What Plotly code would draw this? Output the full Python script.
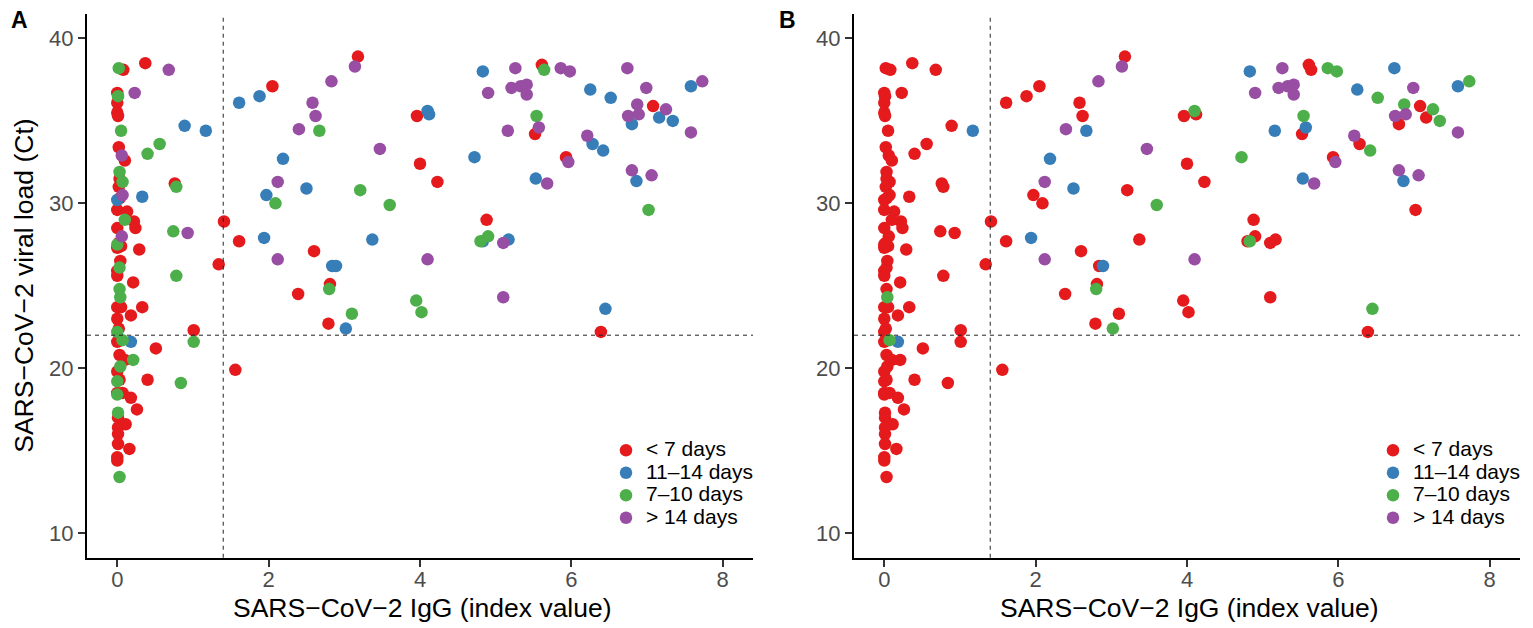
import plotly.graph_objects as go

# SARS-CoV-2 IgG index value and Ct value per sample (same samples in both panels)
igg = [
    0.02, 0.08, 0.37, 0.68, 0.00, 0.01, 0.23, 0.00, 0.00, 0.01,
    0.05, 0.02, 0.06, 0.10, 0.40, 0.56, 0.89, 1.17, 1.61, 1.88,
    2.05, 2.19, 2.12, 1.97, 2.09, 0.03, 0.03, 0.07, 0.02, 0.07,
    0.00, 0.03, 0.33, 0.76, 0.78, 0.00, 0.13, 0.22, 0.00, 0.24,
    0.10, 0.06, 0.74, 0.93, 1.41, 1.61, 1.94, 2.12, 1.34, 0.02,
    0.00, 0.00, 0.05, 0.29, 0.04, 0.03, 0.00, 0.00, 0.21, 0.78,
    0.03, 0.04, 0.00, 0.05, 0.33, 0.18, 0.00, 0.02, 0.00, 1.01,
    1.01, 0.18, 0.07, 0.00, 0.51, 0.03, 0.10, 0.21, 0.04, 0.00,
    0.03, 0.00, 0.40, 0.84, 1.56, 0.00, 0.07, 0.00, 0.18, 0.26,
    0.01, 0.01, 0.11, 0.01, 0.01, 0.01, 0.16, 0.00, 0.00, 0.03,
    3.18, 3.14, 2.83, 2.58, 2.62, 2.40, 2.67, 3.47, 2.50, 3.21,
    3.60, 3.37, 2.60, 2.84, 2.89, 2.81, 2.80, 2.39, 3.10, 2.79,
    3.02, 3.96, 4.10, 4.12, 4.00, 4.23, 4.72, 4.83, 4.90, 5.16,
    5.26, 5.21, 4.88, 4.90, 4.80, 4.83, 5.17, 5.10, 4.10, 3.95,
    4.02, 5.10, 5.61, 5.64, 5.86, 5.98, 6.74, 5.33, 5.41, 5.41,
    6.25, 6.52, 6.99, 7.58, 7.73, 6.87, 7.08, 7.25, 6.75, 6.89,
    6.80, 7.16, 7.34, 7.58, 5.54, 5.57, 5.52, 6.21, 6.28, 6.42,
    5.93, 5.96, 5.53, 5.68, 6.80, 6.86, 7.06, 7.02, 6.45, 6.39,
]

ct = [
    38.2, 38.1, 38.5, 38.1, 36.7, 36.5, 36.7, 36.1, 35.5, 35.3,
    34.4, 33.4, 32.9, 32.6, 33.0, 33.6, 34.7, 34.4, 36.1, 36.5,
    37.1, 32.7, 31.3, 30.5, 30.0, 31.9, 31.5, 31.3, 31.0, 30.5,
    30.2, 30.3, 30.4, 31.2, 31.0, 29.6, 29.5, 28.9, 28.5, 28.5,
    29.0, 28.0, 28.3, 28.2, 28.9, 27.7, 27.9, 26.6, 26.3, 27.6,
    27.5, 27.3, 27.4, 27.2, 26.5, 26.1, 25.9, 25.6, 25.2, 25.6,
    24.8, 24.3, 23.7, 23.7, 23.7, 23.2, 23.0, 22.4, 22.2, 22.3,
    21.6, 21.6, 21.7, 21.6, 21.2, 20.8, 20.5, 20.5, 20.1, 19.8,
    19.3, 19.2, 19.3, 19.1, 19.9, 18.5, 18.5, 18.4, 18.2, 17.5,
    17.3, 17.0, 16.6, 16.4, 16.0, 15.4, 15.1, 14.6, 14.4, 13.4,
    38.9, 38.3, 37.4, 36.1, 35.3, 34.5, 34.4, 33.3, 30.9, 30.8,
    29.9, 27.8, 27.1, 26.2, 26.2, 25.1, 24.8, 24.5, 23.3, 22.7,
    22.4, 35.3, 35.6, 35.4, 32.4, 31.3, 32.8, 38.0, 36.7, 34.4,
    38.2, 37.0, 29.0, 28.0, 27.7, 27.7, 27.8, 27.6, 26.6, 24.1,
    23.4, 24.3, 38.4, 38.1, 38.2, 38.0, 38.2, 37.1, 37.2, 36.6,
    36.9, 36.4, 37.0, 37.1, 37.4, 36.0, 35.9, 35.7, 35.3, 35.4,
    34.8, 35.2, 35.0, 34.3, 35.3, 34.6, 34.2, 34.1, 33.6, 33.2,
    32.8, 32.5, 31.5, 31.2, 32.0, 31.35, 31.7, 29.6, 23.6, 22.2,
]

# days since symptom onset: r = <7, g = 7-10, b = 11-14, p = >14
days_a = (
    "g r r p r g p r r r  g r p r g g b b b b  r b p b g g r g r p  "
    "b r b r g r r r r r  g p g p r r b p r r  g r r r r g r r r g  "
    "g g r r r r r r g r  g b g r r r r g g r  r g r g r r r g r r  "
    "g r r r r r r r r g  r p p p p p g p b g  g b r b b r g r g r  "
    "b r b b r r b b p p  p p r g g b b p p g  g p r g p p p p p p  "
    "b b p b p p r p p p  b b b p g p r p b b  r p b p p b p g b r"
).split()

days_b = (
    "r r r r r r r r r r  r r r r r r r b r r  r b p r r r r r r r  "
    "r r r r r r r r r r  r r r r r r b p r r  r r r r r r r r r r  "
    "r g r r r r r r r r  r b g r r r r r r r  r r r r r r r r r r  "
    "r r r r r r r r r r  r p p r r p b p b r  g r r r b r g r r r  "
    "g r g r r r g b p b  p p r r r g r r p r  r r r r g g b p p p  "
    "b g p b g g r g p p  r r g p g b r p r g  r p b p p b p r g r"
).split()

codes = ["r", "b", "g", "p"]
labels = {"r": "< 7 days", "b": "11–14 days", "g": "7–10 days", "p": "> 14 days"}
colors = {"r": "#E41A1C", "b": "#377EB8", "g": "#4DAF4A", "p": "#984EA3"}

xticks = [0, 2, 4, 6, 8]
yticks = [10, 20, 30, 40]
igg_cut = 1.4
ct_cut = 22

W, H = 1533, 628
OFF = 8  # page body margin shifts the whole figure
FONT = "Liberation Sans"


def px(v):
    return (v - OFF) / W


def py(v):
    return 1 - (v - OFF) / H


fig = go.Figure()

panels = [("x", "y", "legend", days_a), ("x2", "y2", "legend2", days_b)]
for xa, ya, leg, days in panels:
    for c in codes:
        xs = [igg[i] for i in range(len(igg)) if days[i] == c]
        ys = [ct[i] for i in range(len(ct)) if days[i] == c]
        fig.add_trace(go.Scatter(
            x=xs, y=ys, xaxis=xa, yaxis=ya, mode="markers",
            marker=dict(size=12.5, color=colors[c], line=dict(width=0)),
            name='<span style="font-size:21px">' + labels[c] + "</span>",
            legend=leg, hoverinfo="x+y",
        ))
    # cut-off lines
    fig.add_shape(type="line", xref=xa, yref=ya + " domain", x0=igg_cut, x1=igg_cut, y0=0, y1=1,
                  line=dict(color="#222", width=1, dash="4px,4px"))
    fig.add_shape(type="line", xref=xa + " domain", yref=ya, x0=0, x1=1, y0=ct_cut, y1=ct_cut,
                  line=dict(color="#222", width=1, dash="4px,4px"))

ydom = [py(557.75), py(13.75)]
xdom_a = [px(87), px(753)]
xdom_b = [px(854), px(1520)]

axis_style = dict(
    showline=True, linecolor="black", linewidth=2, mirror=False,
    ticks="outside", ticklen=7, tickwidth=1.5, tickcolor="#333333",
    tickfont=dict(size=22, color="#4D4D4D", family=FONT),
    showgrid=False, zeroline=False, automargin=False,
)

fig.update_layout(
    width=W, height=H,
    margin=dict(l=0, r=0, t=0, b=0),
    paper_bgcolor="white", plot_bgcolor="white",
    font=dict(family=FONT, color="black"),
    xaxis=dict(domain=xdom_a, range=[-0.4, 8.4], tickvals=xticks, anchor="y",
               ticklabelstandoff=-6, **axis_style),
    yaxis=dict(domain=ydom, range=[8.5, 41.5], tickvals=yticks, anchor="x", **axis_style),
    xaxis2=dict(domain=xdom_b, range=[-0.4, 8.4], tickvals=xticks, anchor="y2",
                ticklabelstandoff=-6, **axis_style),
    yaxis2=dict(domain=ydom, range=[8.5, 41.5], tickvals=yticks, anchor="x2", **axis_style),
    legend=dict(x=px(606), y=py(434), xanchor="left", yanchor="top",
                bgcolor="rgba(0,0,0,0)", font=dict(size=15, family=FONT, color="black")),
    legend2=dict(x=px(1373), y=py(434), xanchor="left", yanchor="top",
                 bgcolor="rgba(0,0,0,0)", font=dict(size=15, family=FONT, color="black")),
    showlegend=True,
)

annots = [
    dict(text="<b>A</b>", x=px(19), y=py(20), font=dict(size=23)),
    dict(text="<b>B</b>", x=px(787), y=py(20), font=dict(size=23)),
    dict(text="SARS−CoV−2 IgG (index value)", x=px(422), y=py(608), font=dict(size=26.5)),
    dict(text="SARS−CoV−2 IgG (index value)", x=px(1189), y=py(608), font=dict(size=26.5)),
    dict(text="SARS−CoV−2 viral load (Ct)", x=px(24), y=py(285.75), font=dict(size=26.5), textangle=-90),
]
for a in annots:
    fig.add_annotation(xref="paper", yref="paper", xanchor="center", yanchor="middle",
                       showarrow=False, **a)

fig.write_html("out.html")
